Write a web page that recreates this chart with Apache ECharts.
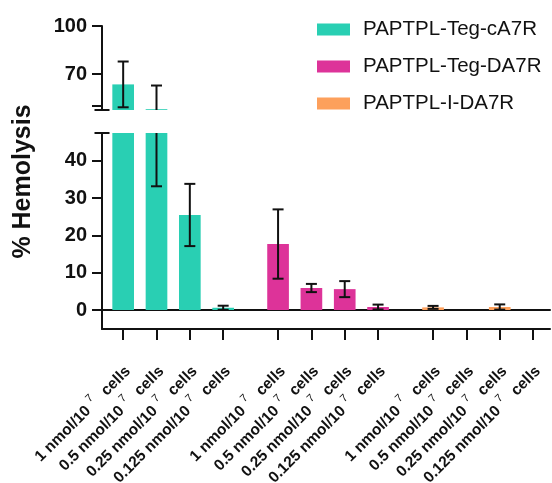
<!DOCTYPE html>
<html>
<head>
<meta charset="utf-8">
<script src="https://cdn.jsdelivr.net/npm/echarts@6/dist/echarts.min.js"></script>
<style>
html,body{margin:0;padding:0;background:#fff;}
#c{width:552px;height:483px;}
</style>
</head>
<body>
<div id="c"></div>
<script>
// ---- data ----
const doses = ['1', '0.5', '0.25', '0.125'];
const seriesNames = ['PAPTPL-Teg-cA7R', 'PAPTPL-Teg-DA7R', 'PAPTPL-I-DA7R'];
const tealMean = [63.5, 48, 25.5, 0.6];
const tealSD = [14.3, 14.8, 8.35, 0.55];
const magentaMean = [17.7, 5.9, 5.6, 0.8];
const magentaSD = [9.3, 1.1, 2.15, 0.65];
const orangeMean = [0.7, 0, 0.8, 0];
const orangeSD = [0.4, 0, 0.7, 0];
const upperTicks = [50, 70, 100];
const upperLabels = [70, 100];
const lowerTicks = [0, 10, 20, 30, 40];
const lowerLabels = [0, 10, 20, 30, 40];

const colors = ['#29CFB3', '#DD3399', '#FDA05C'];
const FONT = '"Liberation Sans", Arial, Helvetica, sans-serif';
const INK = '#111';

const LOW_MIN = -5.1, LOW_MAX = 47.5, UP_MIN = 47.5, UP_MAX = 100;
const UP_TOP = 26, UP_H = 84, LOW_TOP = 133, LOW_H = 196;
const GW = 133.33;
const groupLeft = [106.5, 261.4, 416.4];

function errData(mean, sd) {
  return mean.map((m, i) => [i, m, sd[i]]);
}
function renderErr(params, api) {
  const x = api.value(0), m = api.value(1), sd = api.value(2);
  if (!(sd > 0)) return null;
  const t = api.coord([x, m + sd]);
  const b = api.coord([x, m - sd]);
  const hw = 5.5;
  const st = { stroke: INK, lineWidth: 2 };
  return {
    type: 'group',
    children: [
      { type: 'line', shape: { x1: t[0], y1: t[1], x2: b[0], y2: b[1] }, style: st },
      { type: 'line', shape: { x1: t[0] - hw, y1: t[1], x2: t[0] + hw, y2: t[1] }, style: st },
      { type: 'line', shape: { x1: b[0] - hw, y1: b[1], x2: b[0] + hw, y2: b[1] }, style: st }
    ]
  };
}

function g(o) { return Object.assign({ outerBoundsMode: 'none', containLabel: false }, o); }
const grids = [
  g({ left: groupLeft[0], top: UP_TOP, width: GW, height: UP_H }),
  g({ left: groupLeft[0], top: LOW_TOP, width: GW, height: LOW_H }),
  g({ left: groupLeft[1], top: LOW_TOP, width: GW, height: LOW_H }),
  g({ left: groupLeft[2], top: LOW_TOP, width: GW, height: LOW_H }),
  g({ left: 102, top: LOW_TOP, width: 448, height: LOW_H }),
  g({ left: 102, top: 30, width: 10, height: LOW_TOP + LOW_H - UP_TOP })
];

function catAxis(gi, showTicks) {
  return {
    type: 'category', gridIndex: gi, data: doses,
    axisLine: { show: false, onZero: false },
    axisTick: { show: showTicks, alignWithLabel: true, length: 11, lineStyle: { color: INK, width: 2 } },
    axisLabel: {
      show: showTicks, rotate: 45, margin: 35, interval: 0, hideOverlap: false,
      padding: [14, 0, 0, 0],
      fontFamily: FONT, fontWeight: 'bold', fontSize: 15.5, color: INK,
      formatter: v => v + ' nmol/10{s|7}  cells',
      rich: { s: { fontSize: 11, fontWeight: 'normal', fontFamily: FONT, color: INK, padding: [0, 2, 13, 5] } }
    },
    splitLine: { show: false }
  };
}
const xAxes = [
  catAxis(0, false), catAxis(1, true), catAxis(2, true), catAxis(3, true),
  { type: 'value', gridIndex: 4, min: 0, max: 1, position: 'bottom',
    axisLine: { show: true, onZero: false, lineStyle: { color: INK, width: 2 } },
    axisTick: { show: false }, axisLabel: { show: false }, splitLine: { show: false } },
  { type: 'value', gridIndex: 4, min: 0, max: 1, position: 'top',
    axisLine: { show: true, onZero: true, lineStyle: { color: INK, width: 2 } },
    axisTick: { show: false }, axisLabel: { show: false }, splitLine: { show: false } },
  { type: 'value', gridIndex: 5, min: 0, max: 1, show: false }
];

const labelStyle = { fontFamily: FONT, fontWeight: 'bold', fontSize: 20, color: INK, margin: 15 };
const yAxes = [
  { type: 'value', gridIndex: 0, min: UP_MIN, max: UP_MAX, offset: 4.5,
    axisLine: { show: true, onZero: false, symbol: ['rect', 'none'], symbolSize: [15, 2], lineStyle: { color: INK, width: 2 } },
    axisTick: { show: true, length: 10, customValues: upperTicks, lineStyle: { color: INK, width: 2 } },
    axisLabel: Object.assign({ customValues: upperLabels }, labelStyle),
    splitLine: { show: false } },
  { type: 'value', gridIndex: 1, min: LOW_MIN, max: LOW_MAX, offset: 4.5,
    axisLine: { show: true, onZero: false, symbol: ['none', 'rect'], symbolSize: [15, 2], lineStyle: { color: INK, width: 2 } },
    axisTick: { show: true, length: 10, customValues: lowerTicks, lineStyle: { color: INK, width: 2 } },
    axisLabel: Object.assign({ customValues: lowerLabels }, labelStyle),
    splitLine: { show: false } },
  { type: 'value', gridIndex: 2, min: LOW_MIN, max: LOW_MAX, show: false },
  { type: 'value', gridIndex: 3, min: LOW_MIN, max: LOW_MAX, show: false },
  { type: 'value', gridIndex: 4, min: LOW_MIN, max: LOW_MAX,
    axisLine: { show: false }, axisTick: { show: false }, axisLabel: { show: false }, splitLine: { show: false } },
  { type: 'value', gridIndex: 5, min: 0, max: 1,
    name: '% Hemolysis', nameLocation: 'middle', nameGap: 66,
    nameTextStyle: { fontFamily: FONT, fontWeight: 'bold', fontSize: 25, color: INK },
    axisLine: { show: false }, axisTick: { show: false }, axisLabel: { show: false }, splitLine: { show: false } }
];

function barSeries(name, color, gi, data) {
  return { type: 'bar', name: name, xAxisIndex: gi, yAxisIndex: gi, data: data,
    barWidth: '65%', itemStyle: { color: color }, clip: true, z: 2, silent: true };
}
function errSeries(name, gi, mean, sd) {
  return { type: 'custom', name: name + '-err', xAxisIndex: gi, yAxisIndex: gi,
    data: errData(mean, sd), renderItem: renderErr, clip: true, z: 5, silent: true };
}

const series = [
  barSeries(seriesNames[0], colors[0], 0, tealMean),
  barSeries(seriesNames[0], colors[0], 1, tealMean),
  barSeries(seriesNames[1], colors[1], 2, magentaMean),
  barSeries(seriesNames[2], colors[2], 3, orangeMean),
  errSeries(seriesNames[0], 0, tealMean, tealSD),
  errSeries(seriesNames[0], 1, tealMean, tealSD),
  errSeries(seriesNames[1], 2, magentaMean, magentaSD),
  errSeries(seriesNames[2], 3, orangeMean, orangeSD)
];

const chart = echarts.init(document.getElementById('c'), null, { renderer: 'canvas' });
chart.setOption({
  animation: false,
  backgroundColor: '#fff',
  grid: grids,
  xAxis: xAxes,
  yAxis: yAxes,
  legend: {
    data: seriesNames.map(n => ({ name: n, icon: 'rect' })),
    orient: 'vertical', left: 312, top: 14,
    itemWidth: 33, itemHeight: 12, itemGap: 16, selectedMode: false,
    textStyle: { fontFamily: FONT, fontSize: 20.5, color: INK, padding: [0, 0, 0, 8] }
  },
  series: series
});
</script>
</body>
</html>
